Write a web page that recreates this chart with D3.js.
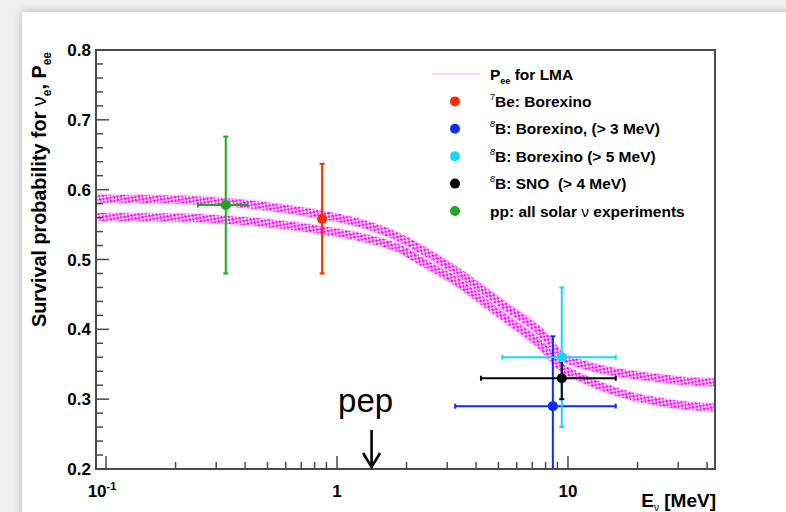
<!DOCTYPE html>
<html>
<head>
<meta charset="utf-8">
<script src="https://cdn.jsdelivr.net/npm/d3@7"></script>
<style>
  html, body { margin: 0; padding: 0; background: #efefef; }
  svg { display: block; }
  text { font-family: "Liberation Sans", Arial, sans-serif; fill: #000; white-space: pre; }
</style>
</head>
<body>
<svg id="chart" width="786" height="512"></svg>
<script>
// LMA survival probability band: two edge curves, energy in MeV
const bandEnergy = [0.09, 0.1, 0.2, 0.33, 0.5, 0.86, 1.26, 1.82, 2.5, 3.3, 3.9, 5.4, 7.6, 9.4, 11, 13.8, 18, 25, 32, 43];
const bandUpper  = [0.587, 0.587, 0.586, 0.582, 0.576, 0.564, 0.552, 0.533, 0.508, 0.483, 0.466, 0.432, 0.396, 0.361, 0.352, 0.343, 0.336, 0.330, 0.326, 0.324];
const bandLower  = [0.561, 0.561, 0.560, 0.557, 0.552, 0.542, 0.532, 0.517, 0.491, 0.468, 0.450, 0.415, 0.378, 0.345, 0.333, 0.319, 0.306, 0.296, 0.291, 0.288];

// Measurements
const pointLabels = ["7Be: Borexino", "8B: Borexino, (> 3 MeV)", "8B: Borexino (> 5 MeV)", "8B: SNO  (> 4 MeV)", "pp: all solar ν experiments"];
const pointColors = ["#ff2a00", "#0a2cff", "#19d4ff", "#000000", "#1fa51f"];
const pointE      = [0.862, 8.6, 9.4, 9.4, 0.33];
const pointELow   = [0.862, 3.25, 5.2, 4.2, 0.25];
const pointEHigh  = [0.862, 16.1, 16.1, 16.1, 0.41];
const pointP      = [0.558, 0.290, 0.360, 0.330, 0.578];
const pointPLow   = [0.480, 0.190, 0.260, 0.300, 0.480];
const pointPHigh  = [0.637, 0.390, 0.460, 0.360, 0.676];

// Axis ticks
const yMajor = [0.2, 0.3, 0.4, 0.5, 0.6, 0.7, 0.8];
const xMajor = [0.1, 1, 10];
const xMajorLabels = ["10", "1", "10"];
const pepEnergy = 1.44;

const svg = d3.select("#chart");
const W = 786, H = 512;
const m = { left: 96, right: 715, top: 50, bottom: 469 };

// page card with soft shadow
const defs = svg.append("defs");
const sh = defs.append("filter").attr("id", "shadow").attr("x", "-5%").attr("y", "-5%").attr("width", "110%").attr("height", "110%");
sh.append("feGaussianBlur").attr("in", "SourceAlpha").attr("stdDeviation", 4);
sh.append("feOffset").attr("dx", 0).attr("dy", 0).attr("result", "b");
sh.append("feComponentTransfer").append("feFuncA").attr("type", "linear").attr("slope", 0.25);
const mg = sh.append("feMerge");
mg.append("feMergeNode");
mg.append("feMergeNode").attr("in", "SourceGraphic");

svg.append("rect").attr("width", W).attr("height", H).attr("fill", "#efefef");
svg.append("rect").attr("x", 22).attr("y", 12).attr("width", W).attr("height", H)
  .attr("fill", "#fff").attr("filter", "url(#shadow)");

// hatched fill used for the band curves
const pat = defs.append("pattern").attr("id", "hatch").attr("patternUnits", "userSpaceOnUse")
  .attr("width", 5).attr("height", 5).attr("patternTransform", "rotate(35)");
pat.append("rect").attr("width", 5).attr("height", 5).attr("fill", "#fff0fd");
pat.append("rect").attr("x", 0).attr("y", 0).attr("width", 2.8).attr("height", 2.3).attr("fill", "#ff00ff");
pat.append("rect").attr("x", 2.5).attr("y", 2.5).attr("width", 2.8).attr("height", 2.3).attr("fill", "#ff00ff");

defs.append("clipPath").attr("id", "plotclip").append("rect")
  .attr("x", m.left).attr("y", m.top).attr("width", m.right - m.left).attr("height", m.bottom - m.top);

const x = d3.scaleLog().domain([0.0905, 43.3]).range([m.left, m.right]);
const y = d3.scaleLinear().domain([0.2, 0.8]).range([m.bottom, m.top]);

const plot = svg.append("g").attr("clip-path", "url(#plotclip)");

// band curves
const line = d3.line().x(d => x(d[0])).y(d => y(d[1])).curve(d3.curveMonotoneX);
[bandUpper, bandLower].forEach(arr => {
  const pts = bandEnergy.map((e, i) => [e, arr[i]]);
  plot.append("path").attr("d", line(pts)).attr("fill", "none")
    .attr("stroke", "#fbd6f8").attr("stroke-width", 10);
  plot.append("path").attr("d", line(pts)).attr("fill", "none")
    .attr("stroke", "url(#hatch)").attr("stroke-width", 8);
});

// error bars and markers
const cap = 2.5;
pointE.forEach((e, i) => {
  const g = plot.append("g").attr("stroke", pointColors[i]).attr("stroke-width", 2);
  const cx = x(e), cy = y(pointP[i]);
  g.append("line").attr("x1", cx).attr("x2", cx).attr("y1", y(pointPLow[i])).attr("y2", y(pointPHigh[i]));
  g.append("line").attr("x1", cx - cap).attr("x2", cx + cap).attr("y1", y(pointPLow[i])).attr("y2", y(pointPLow[i]));
  g.append("line").attr("x1", cx - cap).attr("x2", cx + cap).attr("y1", y(pointPHigh[i])).attr("y2", y(pointPHigh[i]));
  if (pointELow[i] !== pointEHigh[i]) {
    g.append("line").attr("x1", x(pointELow[i])).attr("x2", x(pointEHigh[i])).attr("y1", cy).attr("y2", cy);
    g.append("line").attr("x1", x(pointELow[i])).attr("x2", x(pointELow[i])).attr("y1", cy - cap).attr("y2", cy + cap);
    g.append("line").attr("x1", x(pointEHigh[i])).attr("x2", x(pointEHigh[i])).attr("y1", cy - cap).attr("y2", cy + cap);
  }
});
pointE.forEach((e, i) => {
  plot.append("circle").attr("cx", x(e)).attr("cy", y(pointP[i])).attr("r", 5).attr("fill", pointColors[i]);
});

// frame
svg.append("rect").attr("x", m.left).attr("y", m.top).attr("width", m.right - m.left).attr("height", m.bottom - m.top)
  .attr("fill", "none").attr("stroke", "#4a4a4a").attr("stroke-width", 2);

// y ticks
const ticks = svg.append("g").attr("stroke", "#4a4a4a").attr("stroke-width", 1.5);
d3.range(0.2, 0.8001, 0.02).forEach(v => {
  const major = yMajor.some(t => Math.abs(t - v) < 1e-6);
  ticks.append("line").attr("x1", m.left).attr("x2", m.left + (major ? 13 : 7)).attr("y1", y(v)).attr("y2", y(v));
});
// x ticks
const xMinor = [];
[0.1, 1, 10].forEach(d => d3.range(1, 10).forEach(k => { const v = d * k; if (v > 0.0905 && v < 43.3) xMinor.push(v); }));
xMinor.forEach(v => {
  const major = xMajor.some(t => Math.abs(t - v) < 1e-9);
  ticks.append("line").attr("x1", x(v)).attr("x2", x(v)).attr("y1", m.bottom).attr("y2", m.bottom - (major ? 13 : 7));
});

// y tick labels
yMajor.forEach(v => {
  svg.append("text").attr("x", 91).attr("y", y(v) + 6).attr("text-anchor", "end")
    .attr("font-size", 17).attr("font-weight", "bold").text(d3.format(".1f")(v));
});
// x tick labels
xMajor.forEach((v, i) => {
  const t = svg.append("text").attr("x", x(v) - (v === 0.1 ? 4 : 0)).attr("y", 497).attr("text-anchor", "middle")
    .attr("font-size", 17).attr("font-weight", "bold");
  t.append("tspan").text(xMajorLabels[i]);
  if (v === 0.1) t.append("tspan").attr("dy", -7).attr("font-size", 11).text("-1");
});

// axis titles
const xt = svg.append("text").attr("x", 716).attr("y", 507).attr("text-anchor", "end")
  .attr("font-size", 19).attr("font-weight", "bold");
xt.append("tspan").text("E");
xt.append("tspan").attr("dy", 4).attr("font-size", 10).attr("font-weight", "normal").text("ν");
xt.append("tspan").attr("dy", -4).text(" [MeV]");

const yt = svg.append("text").attr("transform", "translate(46,52) rotate(-90)").attr("text-anchor", "end")
  .attr("font-size", 19.8).attr("font-weight", "bold");
yt.append("tspan").text("Survival probability for ");
yt.append("tspan").attr("font-weight", "normal").text("ν");
yt.append("tspan").attr("dy", 5).attr("font-size", 12).text("e");
yt.append("tspan").attr("dy", -5).text(", P");
yt.append("tspan").attr("dy", 5).attr("font-size", 12).text("ee");

// legend
const legX = 455, legText = 490, legY0 = 74, legDy = 27.4;
svg.append("line").attr("x1", 432).attr("x2", 480).attr("y1", legY0).attr("y2", legY0)
  .attr("stroke", "#f7c4f4").attr("stroke-width", 1.5);
const l0 = svg.append("text").attr("x", legText).attr("y", legY0 + 5.5).attr("font-size", 15.5).attr("font-weight", "bold");
l0.append("tspan").text("P");
l0.append("tspan").attr("dy", 4).attr("font-size", 9).text("ee");
l0.append("tspan").attr("dy", -4).text(" for LMA");

pointLabels.forEach((lab, i) => {
  const ly = legY0 + legDy * (i + 1);
  svg.append("circle").attr("cx", legX).attr("cy", ly).attr("r", 5).attr("fill", pointColors[i]);
  const t = svg.append("text").attr("x", legText).attr("y", ly + 5.5).attr("font-size", 15.5).attr("font-weight", "bold");
  const sup = lab.match(/^(\d)(.*)$/);
  if (sup) {
    t.append("tspan").attr("dy", -7).attr("font-size", 9).attr("font-weight", "normal")
      .attr("font-style", sup[1] === "8" ? "italic" : "normal").text(sup[1]);
    t.append("tspan").attr("dy", 7).text(sup[2]);
  } else {
    const parts = lab.split("ν");
    t.append("tspan").text(parts[0]);
    t.append("tspan").attr("font-weight", "normal").text("ν");
    t.append("tspan").text(parts[1]);
  }
});

// pep annotation
svg.append("text").attr("x", x(pepEnergy) - 8).attr("y", 412).attr("text-anchor", "middle")
  .attr("font-family", "Lato, 'Open Sans', sans-serif").attr("font-size", 33).text("pep");
const ax = x(pepEnergy) - 2;
svg.append("path").attr("d", `M${ax},430 L${ax},467 M${ax - 8.5},453 L${ax},467 L${ax + 8.5},453`)
  .attr("fill", "none").attr("stroke", "#000").attr("stroke-width", 2.6).attr("stroke-linejoin", "miter");
</script>
</body>
</html>
